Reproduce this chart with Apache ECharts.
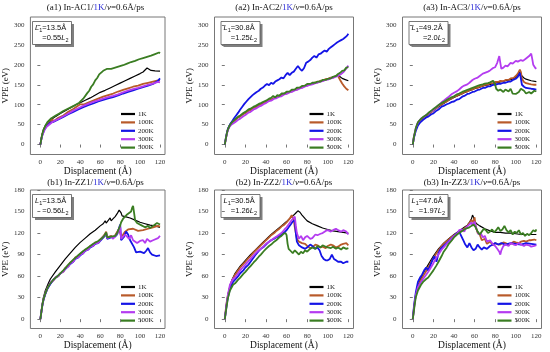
<!DOCTYPE html>
<html><head><meta charset="utf-8">
<script src="https://cdn.jsdelivr.net/npm/echarts@6/dist/echarts.min.js"></script>
<style>html,body{margin:0;padding:0;background:#fff}#c{width:550px;height:352px}</style>
</head><body><div id="c"></div>
<script>
const temps = ['1K','100K','200K','300K','500K'];
const colors = ['#000000','#b85a2a','#1414e6','#b43cf0','#3a7d22'];
const xTicks = [0,20,40,60,80,100,120];
const yTicksTop = [0,50,100,150,200,250,300];
const yTicksBottom = [0,30,60,90,120,150,180];
const panelIds = ['a1','a2','a3','b1','b2','b3'];
const panelNames = ['In-AC1','In-AC2','In-AC3','In-ZZ1','In-ZZ2','In-ZZ3'];
const panelL1 = ['13.5','30.8','49.2','13.5','30.5','47.6'];
const panelRatio = ['0.55','1.25','2.0','0.56','1.26','1.97'];

// ---- a1 ----
const a1_1K = [[0,0],[1,16],[2,28],[3,37],[5,48],[8,57],[10,62],[15,70],[20,78],[25,85],[30,92],[35,99],[40,105],[45,111],[50,117],[53,121],[55,126],[57,127],[60,131],[65,136],[70,142],[75,148],[80,154],[85,160],[90,166],[95,172],[100,178],[103,182],[105,186],[107,192],[108,196],[109,189],[111,186],[115,185],[120,184]];
const a1_100K = [[0,0],[1,15],[2,26],[4,40],[6,48],[8,53],[10,57],[11,61],[12,64],[13,58],[15,62],[18,67],[20,70],[23,73],[25,78],[28,82],[30,87],[33,89],[35,94],[37,96],[38,100],[40,101],[42,97],[44,101],[46,101],[48,105],[50,105],[53,110],[55,110],[58,115],[60,115],[63,120],[65,120],[68,124],[70,124],[73,128],[75,128],[78,133],[80,133],[83,137],[85,137],[88,141],[90,141],[93,145],[95,145],[98,148],[100,148],[103,152],[105,152],[108,155],[110,154],[113,158],[115,157],[118,161],[120,161]];
const a1_200K = [[0,0],[1,14],[2,24],[4,37],[6,45],[8,50],[10,55],[13,57],[15,61],[18,63],[20,67],[23,69],[25,74],[28,76],[30,81],[33,82],[35,87],[38,88],[40,92],[43,94],[45,98],[48,99],[50,102],[53,103],[55,107],[58,108],[60,111],[63,112],[65,116],[68,116],[70,119],[73,119],[75,123],[78,123],[80,127],[83,128],[85,132],[88,132],[90,136],[93,136],[95,140],[98,140],[100,144],[103,144],[105,148],[108,148],[110,152],[113,152],[115,156],[118,160],[120,166]];
const a1_300K = [[0,0],[1,13],[2,23],[4,36],[6,44],[8,49],[10,52],[13,58],[15,58],[18,64],[20,64],[23,71],[25,71],[28,78],[30,78],[33,85],[35,85],[38,91],[40,91],[43,97],[45,96],[48,102],[50,101],[53,107],[55,106],[58,111],[60,110],[63,115],[65,114],[68,119],[70,117],[73,122],[75,121],[78,126],[80,125],[83,131],[85,130],[88,135],[90,134],[93,139],[95,138],[98,142],[100,141],[103,146],[105,145],[108,150],[110,149],[113,153],[115,152],[118,157],[120,156]];
const a1_500K = [[0,0],[1,15],[2,27],[3,36],[5,47],[7,56],[9,61],[11,66],[13,68],[15,72],[17,73],[19,78],[21,80],[23,84],[25,85],[27,89],[29,90],[31,94],[33,95],[35,99],[37,101],[39,105],[41,108],[43,115],[45,120],[47,129],[49,135],[51,145],[53,151],[55,161],[57,167],[59,176],[61,180],[63,185],[65,186],[67,190],[69,185],[71,190],[73,190],[75,193],[77,192],[79,196],[81,195],[83,199],[85,199],[87,203],[89,203],[91,207],[93,206],[95,210],[97,210],[99,214],[101,213],[103,217],[105,217],[107,220],[109,219],[111,223],[113,223],[115,227],[117,226],[119,231],[120,229]];

// ---- a2 ----
const a2_1K = [[0,0],[1,16],[2,29],[3,39],[5,50],[7,57],[10,63],[15,72],[20,80],[25,88],[30,95],[35,101],[40,107],[45,113],[50,119],[55,124],[60,129],[65,134],[70,139],[75,144],[80,149],[85,153],[90,157],[95,161],[100,165],[105,169],[108,172],[110,174],[112,170],[114,166],[117,163],[120,160]];
const a2_100K = [[0,0],[1,15],[2,28],[3,38],[5,49],[7,55],[10,61],[13,68],[15,70],[18,77],[20,78],[23,85],[25,86],[28,92],[30,93],[33,99],[35,100],[38,105],[40,106],[43,111],[45,112],[48,117],[50,118],[53,123],[55,123],[58,128],[60,128],[63,133],[65,133],[68,138],[70,138],[73,143],[75,143],[78,148],[80,148],[83,152],[85,152],[88,156],[90,156],[93,160],[95,160],[98,164],[100,164],[103,168],[105,168],[108,172],[110,172],[112,162],[114,153],[116,146],[118,140],[120,136]];
const a2_200K = [[0,0],[1,16],[2,29],[3,39],[5,50],[7,58],[9,66],[11,73],[13,80],[15,88],[17,95],[19,102],[21,108],[23,114],[25,119],[27,124],[29,128],[31,132],[33,135],[35,140],[37,143],[39,148],[41,152],[43,149],[45,155],[47,152],[49,158],[51,161],[53,164],[55,168],[57,166],[59,174],[61,180],[63,174],[65,180],[67,183],[69,190],[71,197],[73,190],[75,185],[77,192],[79,205],[81,208],[83,212],[85,218],[87,222],[89,218],[91,226],[93,228],[95,232],[97,236],[99,233],[101,240],[103,244],[105,248],[107,252],[109,256],[111,259],[113,262],[115,265],[117,269],[119,274],[120,278]];
const a2_300K = [[0,0],[1,14],[2,26],[3,36],[5,46],[7,51],[10,56],[13,62],[15,65],[18,71],[20,74],[23,80],[25,82],[28,88],[30,90],[33,95],[35,97],[38,102],[40,104],[43,109],[45,110],[48,115],[50,116],[53,120],[55,121],[58,126],[60,127],[63,131],[65,132],[68,136],[70,137],[73,141],[75,142],[78,146],[80,147],[83,150],[85,151],[88,154],[90,155],[93,158],[95,159],[98,162],[100,163],[103,166],[105,167],[108,170],[110,172],[113,177],[115,181],[118,191],[120,198]];
const a2_500K = [[0,0],[1,15],[2,28],[3,38],[5,49],[7,56],[10,63],[13,70],[15,73],[18,79],[20,82],[23,88],[25,90],[28,95],[30,97],[33,102],[35,104],[38,108],[40,110],[43,115],[45,117],[47,122],[49,118],[51,124],[53,122],[55,128],[58,128],[60,133],[63,133],[65,138],[68,138],[70,143],[73,143],[75,147],[78,148],[80,152],[83,152],[85,155],[88,155],[90,158],[93,158],[95,162],[98,162],[100,165],[103,166],[105,170],[108,172],[110,177],[112,180],[114,185],[116,186],[118,193],[120,194]];

// ---- a3 ----
const a3_1K = [[0,0],[1,18],[3,40],[5,55],[7,60],[10,66],[15,75],[20,85],[25,95],[30,103],[35,111],[40,118],[45,124],[50,130],[55,135],[60,140],[65,144],[70,148],[75,151],[80,154],[85,157],[90,160],[95,163],[100,168],[102,173],[104,182],[105,178],[106,172],[108,167],[110,164],[115,160],[120,158]];
const a3_100K = [[0,0],[1,18],[3,40],[5,55],[7,60],[10,67],[13,71],[15,77],[18,81],[20,87],[23,91],[25,97],[28,100],[30,105],[33,108],[35,113],[38,116],[40,120],[43,122],[45,126],[48,128],[50,132],[53,133],[55,137],[58,138],[60,142],[63,142],[65,146],[68,147],[70,150],[73,150],[75,154],[78,154],[80,157],[83,157],[85,160],[88,159],[90,162],[93,162],[95,166],[98,167],[100,172],[102,178],[104,188],[105,182],[106,165],[108,157],[110,154],[113,152],[115,151],[118,150],[120,150]];
const a3_200K = [[0,0],[1,16],[3,35],[5,48],[7,55],[10,62],[13,68],[15,70],[18,76],[20,78],[23,85],[25,88],[28,95],[30,97],[33,101],[35,103],[38,107],[40,108],[43,113],[45,114],[48,120],[50,122],[53,127],[55,128],[58,132],[60,133],[63,137],[65,138],[68,142],[70,142],[73,146],[75,146],[78,150],[80,150],[83,152],[85,152],[88,155],[90,155],[93,158],[95,158],[98,163],[100,165],[102,170],[104,180],[105,165],[106,150],[108,145],[110,142],[113,141],[115,140],[118,139],[120,138]];
const a3_300K = [[0,0],[1,18],[3,42],[5,55],[8,65],[10,68],[13,74],[15,78],[18,84],[20,86],[23,94],[25,98],[28,106],[30,110],[33,116],[35,120],[38,127],[40,130],[43,134],[45,138],[48,145],[50,148],[53,151],[55,155],[58,162],[60,165],[63,168],[65,172],[68,178],[70,180],[73,183],[75,186],[78,192],[80,194],[82,205],[84,222],[85,205],[86,190],[88,193],[90,198],[92,196],[95,205],[97,203],[100,210],[102,208],[105,212],[107,210],[110,216],[113,222],[115,228],[116,215],[117,200],[119,192],[120,190]];
const a3_500K = [[0,0],[1,18],[3,42],[5,56],[7,62],[10,69],[13,74],[15,79],[18,85],[20,89],[23,95],[25,99],[28,104],[30,107],[33,112],[35,115],[38,119],[40,121],[43,126],[45,128],[48,132],[50,134],[53,137],[55,139],[58,142],[60,144],[63,147],[65,149],[68,151],[70,153],[73,154],[75,156],[78,160],[80,150],[81,140],[83,135],[85,138],[88,132],[90,138],[93,133],[95,140],[97,128],[100,127],[103,132],[105,140],[108,135],[110,128],[113,132],[115,128],[118,135],[120,133]];

// ---- b1 ----
const b1_1K = [[0,0],[1,12],[2,22],[3,30],[5,40],[8,50],[10,56],[15,66],[20,75],[25,84],[30,92],[35,100],[40,107],[45,113],[50,119],[55,124],[60,130],[63,133],[65,137],[66,134],[68,136],[70,141],[71,137],[73,140],[75,143],[77,147],[79,152],[80,154],[81,148],[82,144],[85,143],[90,141],[95,138],[100,135],[105,133],[110,131],[115,130],[120,128]];
const b1_100K = [[0,0],[1,10],[2,20],[3,27],[5,36],[7,43],[10,50],[13,54],[15,58],[18,60],[20,64],[23,66],[25,71],[28,74],[30,79],[33,81],[35,86],[38,87],[40,91],[43,93],[45,97],[48,98],[50,102],[53,103],[55,107],[58,107],[60,111],[62,112],[64,117],[66,122],[67,114],[69,113],[71,116],[73,113],[75,117],[77,119],[79,126],[80,128],[81,115],[83,118],[85,122],[88,125],[90,124],[93,126],[95,124],[98,123],[100,121],[103,124],[105,123],[108,126],[110,125],[113,128],[115,127],[118,130],[120,129]];
const b1_200K = [[0,0],[1,10],[2,19],[3,26],[5,35],[7,42],[10,49],[13,55],[15,56],[18,61],[20,62],[23,67],[25,69],[28,74],[30,77],[33,80],[35,84],[38,86],[40,89],[43,92],[45,95],[48,97],[50,100],[53,102],[55,105],[58,106],[60,109],[62,111],[64,115],[66,119],[67,112],[69,111],[71,114],[73,112],[75,115],[77,118],[78,120],[80,132],[81,110],[82,108],[84,115],[86,122],[88,118],[90,110],[92,112],[94,100],[96,93],[98,95],[100,94],[102,96],[104,92],[106,95],[108,99],[110,93],[112,90],[114,92],[116,88],[118,87],[120,89]];
const b1_300K = [[0,0],[1,10],[2,20],[3,27],[5,36],[7,43],[10,51],[13,54],[15,58],[18,60],[20,64],[23,66],[25,71],[28,73],[30,78],[33,80],[35,85],[38,86],[40,90],[43,92],[45,96],[48,97],[50,101],[53,102],[55,106],[58,106],[60,110],[62,111],[64,116],[66,120],[67,113],[69,112],[71,115],[73,112],[75,116],[77,118],[78,121],[80,130],[81,112],[83,110],[85,118],[87,120],[89,112],[91,117],[93,110],[95,112],[97,106],[100,109],[103,110],[105,106],[107,112],[110,108],[113,110],[115,109],[118,113],[120,116]];
const b1_500K = [[0,0],[1,10],[2,20],[3,27],[5,36],[7,43],[10,50],[13,55],[15,57],[18,61],[20,63],[23,68],[25,70],[28,76],[30,78],[33,83],[35,85],[38,89],[40,90],[43,95],[45,96],[48,100],[50,101],[53,105],[55,106],[58,109],[60,110],[62,113],[64,116],[66,121],[67,114],[69,112],[71,115],[73,113],[75,116],[77,120],[79,127],[80,130],[81,135],[83,140],[85,143],[87,146],[89,144],[91,150],[92,155],[93,158],[94,148],[95,138],[97,134],[99,133],[101,131],[103,129],[105,128],[108,130],[110,127],[113,130],[115,131],[117,134],[119,134],[120,132]];

// ---- b2 ----
const b2_1K = [[0,0],[1,14],[2,25],[3,34],[5,46],[7,55],[10,64],[15,74],[20,82],[25,90],[30,97],[35,104],[40,111],[45,118],[50,124],[55,130],[60,136],[63,140],[65,143],[67,145],[69,148],[71,151],[72,153],[73,149],[75,145],[78,140],[80,137],[85,133],[90,130],[95,127],[100,125],[105,123],[110,122],[115,121],[120,120]];
const b2_100K = [[0,0],[1,14],[2,25],[3,33],[5,45],[7,54],[10,62],[13,68],[15,72],[18,77],[20,80],[23,85],[25,88],[28,93],[30,96],[33,100],[35,103],[38,107],[40,110],[43,114],[45,117],[48,120],[50,123],[53,126],[55,129],[58,132],[60,135],[63,140],[65,145],[66,143],[67,138],[68,128],[69,120],[70,112],[72,108],[75,106],[78,105],[80,102],[83,99],[85,100],[88,104],[90,103],[93,100],[95,101],[98,99],[100,102],[103,104],[105,103],[108,100],[110,101],[113,104],[115,105],[118,106],[120,103]];
const b2_200K = [[0,0],[1,11],[2,22],[3,30],[5,42],[8,52],[10,55],[13,60],[15,64],[18,68],[20,72],[23,76],[25,80],[28,86],[30,90],[33,95],[35,98],[38,101],[40,104],[43,108],[45,110],[48,112],[50,114],[53,116],[55,118],[58,121],[60,124],[62,128],[64,132],[66,136],[68,138],[69,120],[70,108],[72,103],[75,100],[78,98],[80,100],[83,104],[85,102],[88,98],[90,100],[92,96],[94,88],[96,84],[98,82],[100,82],[102,84],[104,90],[106,84],[108,82],[110,80],[113,80],[115,78],[118,80],[120,80]];
const b2_300K = [[0,0],[1,12],[2,24],[3,34],[5,48],[8,56],[10,58],[13,64],[15,68],[18,73],[20,76],[23,81],[25,84],[28,89],[30,92],[33,96],[35,98],[38,102],[40,105],[43,108],[45,110],[48,113],[50,115],[53,118],[55,120],[58,125],[60,128],[62,132],[64,136],[66,140],[68,143],[69,130],[70,120],[72,112],[74,116],[76,110],[78,114],[80,116],[83,112],[85,113],[88,118],[90,117],[93,119],[95,120],[98,123],[100,124],[103,122],[105,124],[108,126],[110,124],[113,122],[115,124],[118,122],[120,118]];
const b2_500K = [[0,0],[1,10],[2,20],[3,29],[5,40],[8,48],[10,50],[13,55],[15,58],[18,63],[20,66],[23,71],[25,74],[28,79],[30,82],[33,87],[35,90],[38,95],[40,98],[43,102],[45,104],[48,108],[50,110],[53,114],[55,116],[57,119],[59,120],[60,117],[61,105],[62,98],[64,95],[66,92],[68,96],[70,93],[72,90],[74,94],[76,92],[78,96],[80,94],[82,97],[85,100],[88,98],[90,102],[93,100],[95,103],[98,101],[100,100],[103,99],[105,101],[108,98],[110,100],[113,97],[115,100],[118,98],[120,99]];

// ---- b3 ----
const b3_1K = [[0,0],[1,14],[2,26],[3,35],[5,46],[7,54],[10,64],[15,76],[20,88],[25,98],[30,106],[35,112],[40,118],[45,123],[50,128],[53,131],[55,135],[57,140],[58,145],[59,142],[60,137],[62,133],[65,130],[70,126],[75,123],[80,121],[85,121],[90,120],[95,120],[100,119],[105,118],[110,118],[115,118],[120,118]];
const b3_100K = [[0,0],[1,14],[2,25],[3,34],[5,45],[7,52],[10,60],[13,67],[15,72],[18,80],[20,85],[23,92],[25,96],[28,102],[30,105],[33,109],[35,111],[38,115],[40,117],[43,120],[45,122],[48,124],[50,126],[53,130],[55,134],[57,138],[58,140],[59,135],[60,142],[61,130],[63,120],[65,118],[67,110],[70,112],[72,105],[75,108],[78,103],[80,106],[83,104],[85,104],[88,107],[90,106],[93,104],[95,105],[98,108],[100,107],[103,106],[105,108],[108,109],[110,108],[113,110],[115,110],[118,111],[120,110]];
const b3_200K = [[0,0],[1,16],[2,28],[3,38],[5,52],[7,58],[9,62],[11,68],[13,72],[15,68],[17,75],[19,82],[21,88],[23,80],[25,92],[27,98],[30,102],[33,106],[36,110],[40,116],[43,120],[45,122],[47,116],[49,110],[51,104],[53,100],[55,106],[57,100],[59,96],[61,98],[63,104],[65,100],[67,97],[69,100],[72,98],[75,102],[78,104],[80,106],[83,104],[86,106],[90,104],[95,106],[100,105],[105,104],[110,106],[115,105],[120,104]];
const b3_300K = [[0,0],[1,13],[2,25],[3,34],[5,45],[8,52],[10,56],[13,62],[15,66],[18,73],[20,78],[23,86],[25,90],[28,97],[30,100],[33,105],[35,108],[38,113],[40,116],[43,119],[45,124],[48,125],[50,122],[52,128],[55,132],[57,135],[58,130],[60,136],[62,125],[64,118],[66,120],[68,114],[70,116],[72,108],[75,110],[78,104],[80,102],[82,98],[84,94],[85,90],[86,96],[88,102],[90,104],[93,102],[95,106],[98,104],[100,103],[103,106],[105,104],[108,102],[110,104],[113,103],[115,101],[118,102],[120,103]];
const b3_500K = [[0,0],[1,11],[2,22],[3,31],[5,40],[8,48],[10,52],[13,56],[15,58],[18,64],[20,68],[23,75],[25,80],[28,88],[30,94],[33,100],[35,105],[38,110],[40,114],[43,118],[45,120],[48,123],[50,125],[53,127],[55,128],[57,130],[59,132],[61,128],[63,122],[65,118],[67,122],[69,126],[71,124],[73,120],[75,122],[77,125],[79,121],[81,124],[83,128],[85,123],[87,125],[89,130],[91,124],[93,121],[95,124],[97,118],[99,122],[101,120],[103,124],[105,118],[107,120],[109,116],[111,119],[113,117],[115,120],[117,124],[119,122],[120,125]];

const panelData = [
  [a1_1K,a1_100K,a1_200K,a1_300K,a1_500K],
  [a2_1K,a2_100K,a2_200K,a2_300K,a2_500K],
  [a3_1K,a3_100K,a3_200K,a3_300K,a3_500K],
  [b1_1K,b1_100K,b1_200K,b1_300K,b1_500K],
  [b2_1K,b2_100K,b2_200K,b2_300K,b2_500K],
  [b3_1K,b3_100K,b3_200K,b3_300K,b3_500K]
];

// ---- layout ----
const SERIF = 'Liberation Serif';
const SANS = 'Liberation Sans';
const gridLefts = [26, 214.5, 402.5];
const gridW = 139;
const rowTop = [17, 190];
const rowH = [137.5, 138.5];
const rowY = [[-25, 320], [-13, 180]];
const rowTitleY = [7.5, 183];

const grids = [], xAxes = [], yAxes = [], series = [], legends = [], graphics = [];
panelIds.forEach((id, p) => {
  const row = p < 3 ? 0 : 1, col = p % 3;
  const gl = gridLefts[col], gt = rowTop[row];
  grids.push({left: gl, top: gt, width: gridW, height: rowH[row], show: true, borderColor: '#777', borderWidth: 1, backgroundColor: 'transparent'});
  xAxes.push({
    type: 'value', gridIndex: p, min: -10, max: 125,
    axisLine: {show: false}, splitLine: {show: false},
    axisTick: {show: true, customValues: xTicks, length: 3, lineStyle: {color: '#777'}},
    axisLabel: {customValues: xTicks, fontSize: 7, fontFamily: SERIF, color: '#333', margin: 4},
    name: 'Displacement (Å)', nameLocation: 'middle', nameGap: 11,
    nameTextStyle: {fontFamily: SERIF, fontSize: 9.5, color: '#111'}
  });
  const yt = row === 0 ? yTicksTop : yTicksBottom;
  yAxes.push({
    type: 'value', gridIndex: p, min: rowY[row][0], max: rowY[row][1],
    axisLine: {show: false}, splitLine: {show: false},
    axisTick: {show: true, customValues: yt, length: 3, lineStyle: {color: '#777'}},
    axisLabel: {customValues: yt, fontSize: 7, fontFamily: SERIF, color: '#333', margin: 6},
    name: 'VPE (eV)', nameLocation: 'middle', nameGap: 14,
    nameTextStyle: {fontFamily: SERIF, fontSize: 9, color: '#111'}
  });
  temps.forEach((t, k) => {
    series.push({
      type: 'line', name: t, xAxisIndex: p, yAxisIndex: p,
      data: panelData[p][k], symbol: 'none', showSymbol: false,
      lineStyle: {width: k === 0 ? 1.2 : 1.8, color: colors[k]},
      itemStyle: {color: colors[k]}, animation: false, silent: true
    });
  });
  legends.push({
    data: temps.map(t => ({name: t, icon: 'rect'})), orient: 'vertical', left: gl + 95, top: gt + 93,
    itemWidth: 14, itemHeight: 2.2, itemGap: 0.4, padding: 0, selectedMode: false,
    textStyle: {fontFamily: SERIF, fontSize: 7, lineHeight: 8, color: '#222', padding: [0, 0, 0, -2]}
  });
  // title
  const tfont = {fontSize: 9, fontFamily: SERIF};
  graphics.push({
    type: 'text', x: gl + gridW / 2, y: rowTitleY[row],
    style: {
      text: '(' + id + ') ' + panelNames[p] + '/{b|1K}/{i|v}=0.6Å/ps',
      align: 'center', verticalAlign: 'middle', fill: '#111',
      fontSize: 9, fontFamily: SERIF,
      rich: {b: Object.assign({fill: '#2e2ed6'}, tfont), i: Object.assign({fontStyle: 'italic'}, tfont)}
    }
  });
  // label box
  const lf = {fontSize: 7.5, fontFamily: SANS};
  const sf = {fontSize: 5.5, fontFamily: SANS, verticalAlign: 'bottom', padding: [0, 0, -1, 0]};
  graphics.push({
    type: 'group', x: gl + 6.5, y: gt + 4.5,
    children: [
      {type: 'rect', shape: {x: 2.5, y: 2.5, width: 39, height: 23}, style: {fill: '#7f7f7f'}},
      {type: 'rect', shape: {x: 0, y: 0, width: 39, height: 23}, style: {fill: '#fff', stroke: '#555', lineWidth: 0.8}},
      {type: 'text', x: 2.5, y: 6.5, style: {
        text: '{i|L}{s|1}=' + panelL1[p] + 'Å', verticalAlign: 'middle', fill: '#111', fontSize: 7.5, fontFamily: SANS,
        rich: {i: Object.assign({fontStyle: 'italic'}, lf), s: sf}
      }},
      {type: 'text', x: 36, y: 16.5, style: {
        text: '=' + panelRatio[p] + '{i|L}{s|2}', align: 'right', verticalAlign: 'middle', fill: '#111', fontSize: 7.5, fontFamily: SANS,
        rich: {i: Object.assign({fontStyle: 'italic'}, lf), s: sf}
      }}
    ]
  });
});

const chart = echarts.init(document.getElementById('c'), null, {renderer: 'canvas'});
chart.setOption({
  animation: false, backgroundColor: '#fff',
  grid: grids, xAxis: xAxes, yAxis: yAxes, series: series, legend: legends, graphic: graphics
});
</script></body></html>
